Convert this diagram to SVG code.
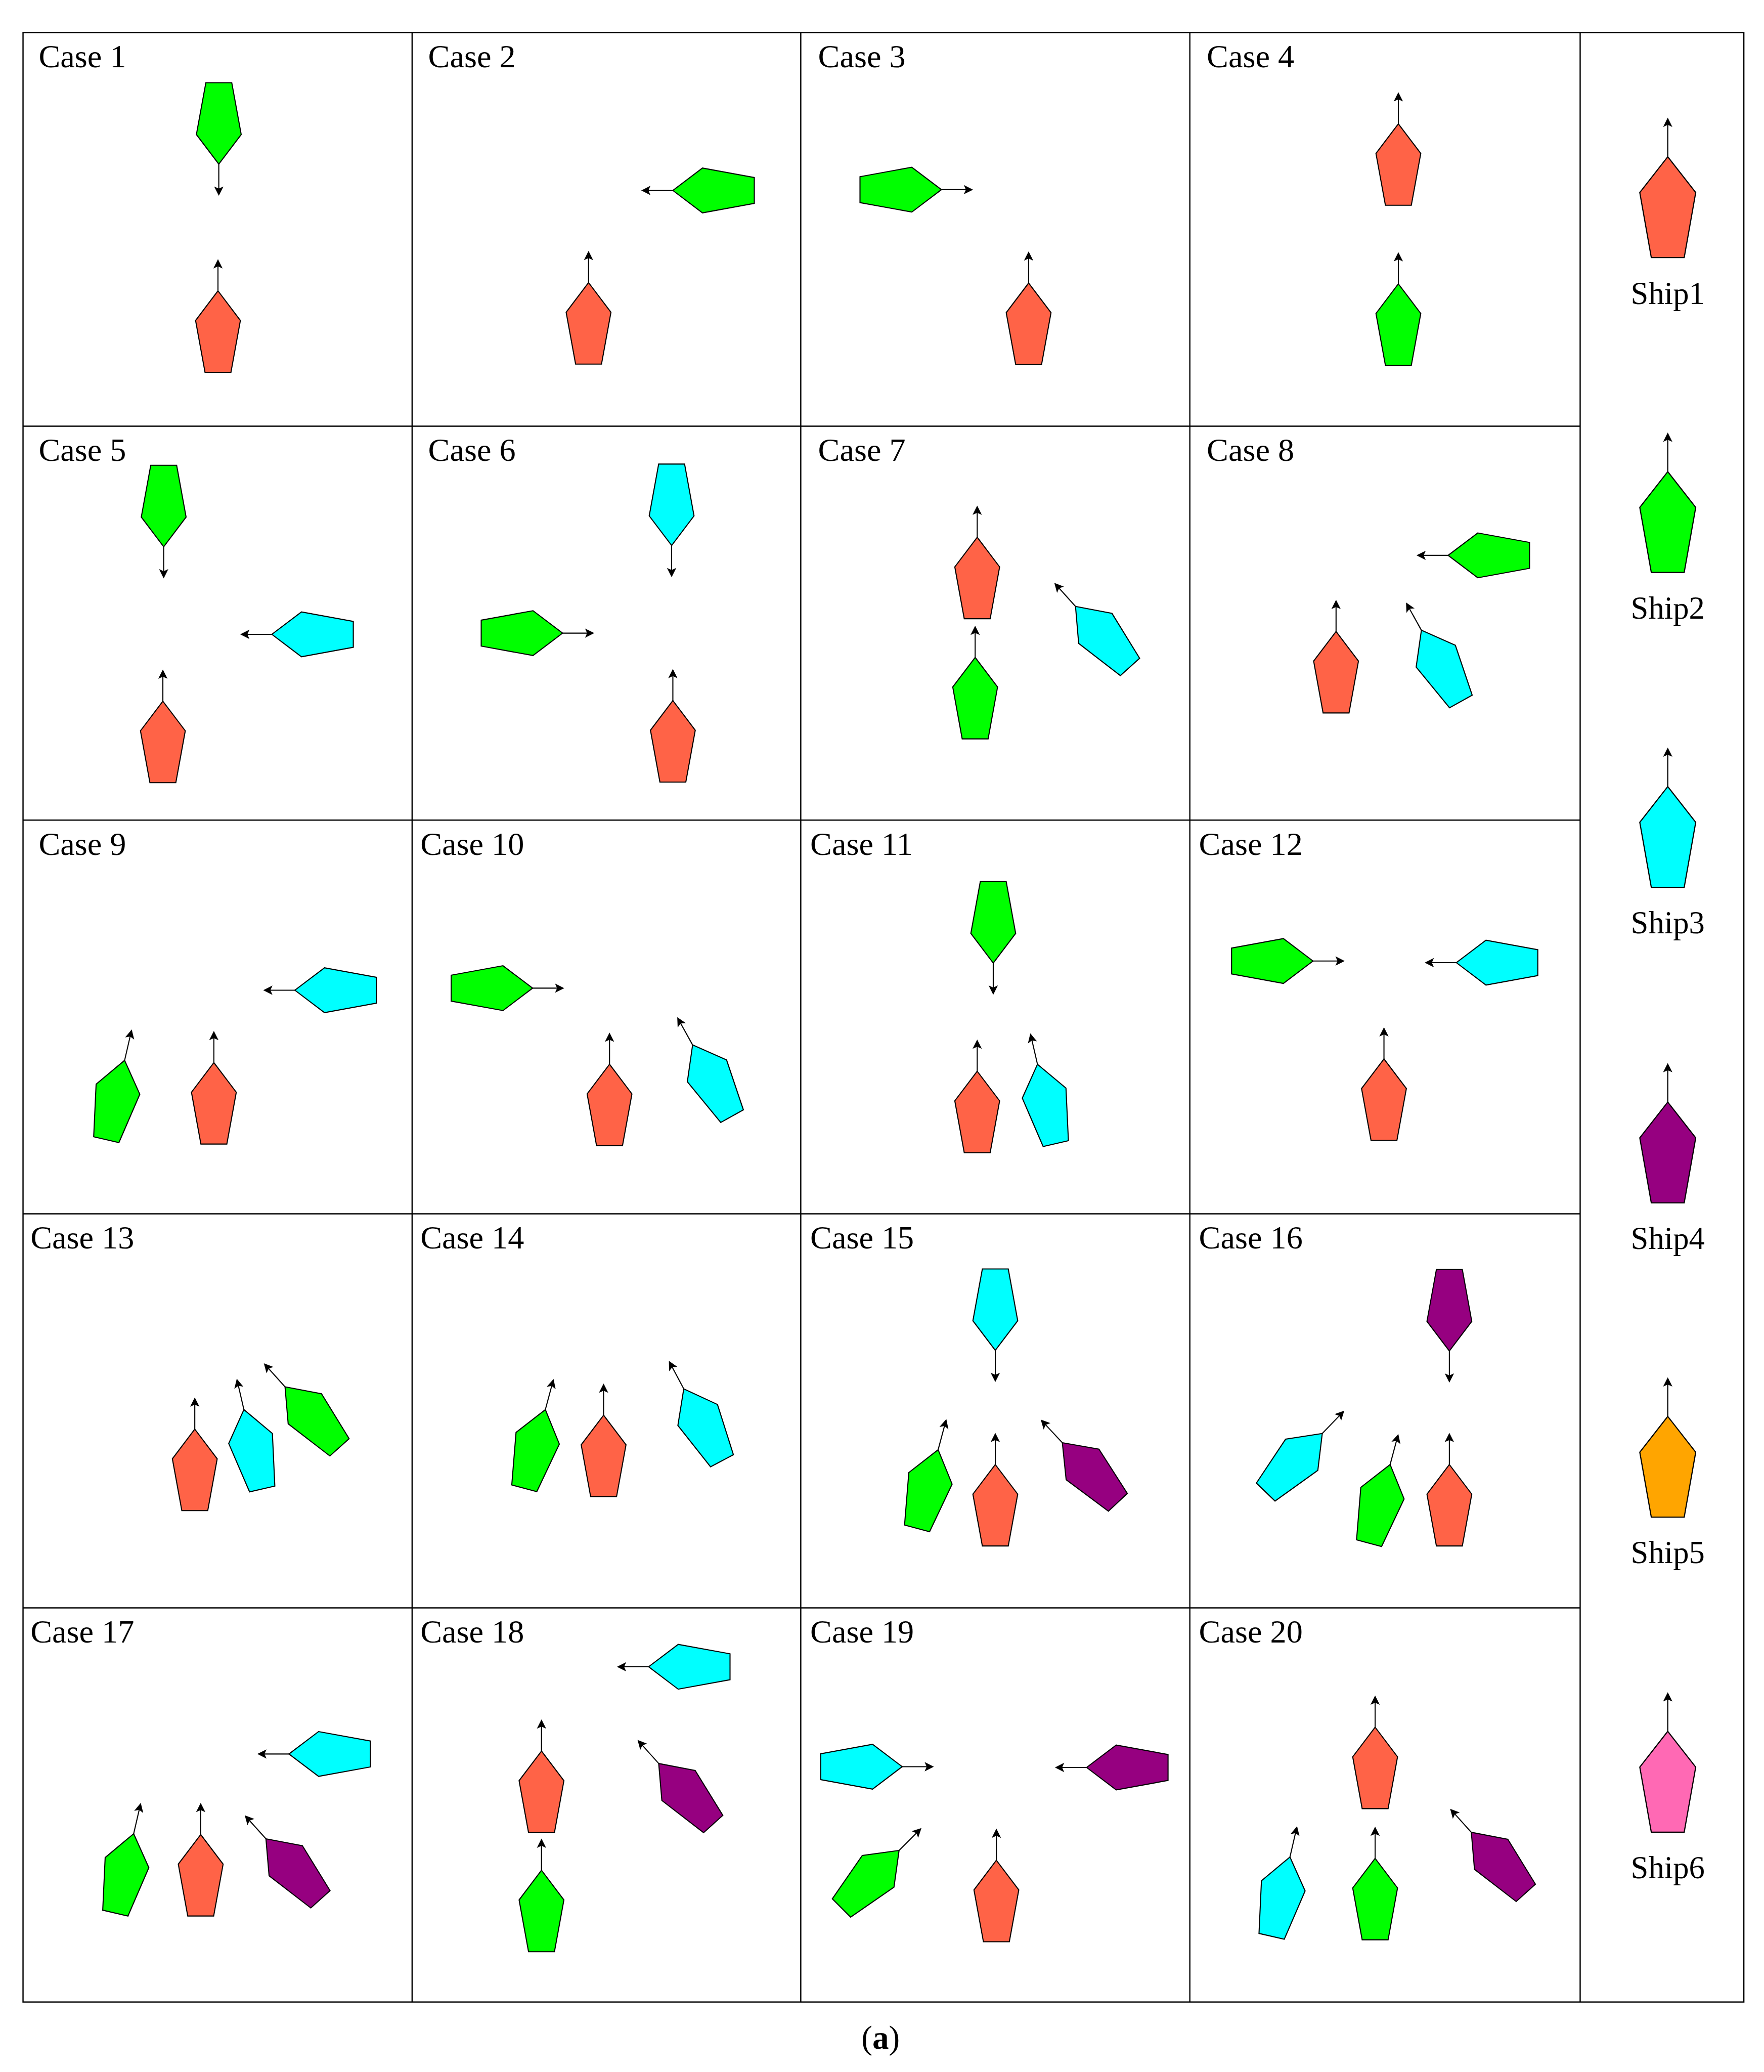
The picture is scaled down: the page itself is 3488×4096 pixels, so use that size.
<svg xmlns="http://www.w3.org/2000/svg" xmlns:xlink="http://www.w3.org/1999/xlink" width="3488" height="4096" viewBox="0 0 3488 4096">
<style>
.grid{fill:none;stroke:#000;stroke-width:3}
.lbl{font-family:"Liberation Serif","Times New Roman",serif;font-size:79px;fill:#000}
.slbl{font-family:"Liberation Serif","Times New Roman",serif;font-size:77px;fill:#000;text-anchor:middle}
.hull{stroke:#000;stroke-width:2.6;stroke-linejoin:miter}
.arw{stroke:#000;stroke-width:2.6;fill:none}
.head{fill:#000;stroke:none}
.s1{fill:#FF6347}.s2{fill:#00FF00}.s3{fill:#00FFFF}.s4{fill:#960080}.s5{fill:#FFA500}.s6{fill:#FF69B4}
</style>
<defs>
<g id="ship">
<polygon class="hull" points="0,0 -54.5,72 -31.5,198 31.5,198 54.5,72"/>
<line class="arw" x1="0" y1="0" x2="0" y2="-60"/>
<path class="head" d="M0,-77 L-11.3,-54.5 L0,-59.5 L11.3,-54.5 Z"/>
</g>
<g id="lship">
<polygon class="hull" points="0,0 -68,87 -40,245 40,245 68,87" style="stroke-width:2.8"/>
<line class="arw" x1="0" y1="0" x2="0" y2="-78" style="stroke-width:2.8"/>
<path class="head" d="M0,-95 L-11.3,-72.5 L0,-77.5 L11.3,-72.5 Z"/>
</g>
</defs>
<rect width="3488" height="4096" fill="#fff"/>
<g transform="scale(0.81324)">
<g id="grid">
<rect class="grid" x="56" y="79" width="4184" height="4787.5"/>
<line class="grid" x1="1002" y1="79" x2="1002" y2="4866.5"/>
<line class="grid" x1="1947" y1="79" x2="1947" y2="4866.5"/>
<line class="grid" x1="2893" y1="79" x2="2893" y2="4866.5"/>
<line class="grid" x1="3842" y1="79" x2="3842" y2="4866.5"/>
<line class="grid" x1="56" y1="1036" x2="3842" y2="1036"/>
<line class="grid" x1="56" y1="1993.5" x2="3842" y2="1993.5"/>
<line class="grid" x1="56" y1="2950.5" x2="3842" y2="2950.5"/>
<line class="grid" x1="56" y1="3908.5" x2="3842" y2="3908.5"/>
</g>
<g id="labels">
<text class="lbl" x="94" y="164">Case 1</text>
<text class="lbl" x="1041" y="164">Case 2</text>
<text class="lbl" x="1989" y="164">Case 3</text>
<text class="lbl" x="2934" y="164">Case 4</text>
<text class="lbl" x="94" y="1120.5">Case 5</text>
<text class="lbl" x="1041" y="1120.5">Case 6</text>
<text class="lbl" x="1989" y="1120.5">Case 7</text>
<text class="lbl" x="2934" y="1120.5">Case 8</text>
<text class="lbl" x="94" y="2078">Case 9</text>
<text class="lbl" x="1022" y="2078">Case 10</text>
<text class="lbl" x="1970" y="2078">Case 11</text>
<text class="lbl" x="2915" y="2078">Case 12</text>
<text class="lbl" x="74" y="3034.5">Case 13</text>
<text class="lbl" x="1022" y="3034.5">Case 14</text>
<text class="lbl" x="1970" y="3034.5">Case 15</text>
<text class="lbl" x="2915" y="3034.5">Case 16</text>
<text class="lbl" x="74" y="3992.5">Case 17</text>
<text class="lbl" x="1022" y="3992.5">Case 18</text>
<text class="lbl" x="1970" y="3992.5">Case 19</text>
<text class="lbl" x="2915" y="3992.5">Case 20</text>
</g>
<g id="case1"><use xlink:href="#ship" class="s2" transform="translate(532,399) rotate(180)"/><use xlink:href="#ship" class="s1" transform="translate(530,707)"/></g>
<g id="case2"><use xlink:href="#ship" class="s2" transform="translate(1636,463) rotate(-90)"/><use xlink:href="#ship" class="s1" transform="translate(1431,687)"/></g>
<g id="case3"><use xlink:href="#ship" class="s2" transform="translate(2289,461) rotate(90)"/><use xlink:href="#ship" class="s1" transform="translate(2501,688)"/></g>
<g id="case4"><use xlink:href="#ship" class="s1" transform="translate(3400,301)"/><use xlink:href="#ship" class="s2" transform="translate(3400,690)"/></g>
<g id="case5"><use xlink:href="#ship" class="s2" transform="translate(398,1329) rotate(180)"/><use xlink:href="#ship" class="s1" transform="translate(396,1704.5)"/><use xlink:href="#ship" class="s3" transform="translate(661,1542) rotate(-90)"/></g>
<g id="case6"><use xlink:href="#ship" class="s3" transform="translate(1633,1326) rotate(180)"/><use xlink:href="#ship" class="s2" transform="translate(1368,1539) rotate(90)"/><use xlink:href="#ship" class="s1" transform="translate(1636,1703)"/></g>
<g id="case7"><use xlink:href="#ship" class="s1" transform="translate(2376,1306)"/><use xlink:href="#ship" class="s2" transform="translate(2371,1598)"/><use xlink:href="#ship" class="s3" transform="translate(2615,1474) rotate(-42)"/></g>
<g id="case8"><use xlink:href="#ship" class="s2" transform="translate(3521,1350) rotate(-90)"/><use xlink:href="#ship" class="s1" transform="translate(3248.5,1535)"/><use xlink:href="#ship" class="s3" transform="translate(3456,1532) rotate(-29)"/></g>
<g id="case9"><use xlink:href="#ship" class="s3" transform="translate(717,2407) rotate(-90)"/><use xlink:href="#ship" class="s2" transform="translate(303,2577.5) rotate(13)"/><use xlink:href="#ship" class="s1" transform="translate(520,2583)"/></g>
<g id="case10"><use xlink:href="#ship" class="s2" transform="translate(1295,2402) rotate(90)"/><use xlink:href="#ship" class="s1" transform="translate(1482,2587)"/><use xlink:href="#ship" class="s3" transform="translate(1684,2540) rotate(-29)"/></g>
<g id="case11"><use xlink:href="#ship" class="s2" transform="translate(2415,2341) rotate(180)"/><use xlink:href="#ship" class="s1" transform="translate(2376,2604)"/><use xlink:href="#ship" class="s3" transform="translate(2522.5,2587) rotate(-13)"/></g>
<g id="case12"><use xlink:href="#ship" class="s2" transform="translate(3192.5,2336) rotate(90)"/><use xlink:href="#ship" class="s3" transform="translate(3541,2340) rotate(-90)"/><use xlink:href="#ship" class="s1" transform="translate(3365,2574)"/></g>
<g id="case13"><use xlink:href="#ship" class="s1" transform="translate(473.6,3474)"/><use xlink:href="#ship" class="s3" transform="translate(593,3426.5) rotate(-13)"/><use xlink:href="#ship" class="s2" transform="translate(693,3371) rotate(-42)"/></g>
<g id="case14"><use xlink:href="#ship" class="s2" transform="translate(1326,3426.5) rotate(15)"/><use xlink:href="#ship" class="s1" transform="translate(1467.6,3440)"/><use xlink:href="#ship" class="s3" transform="translate(1662.5,3376) rotate(-28)"/></g>
<g id="case15"><use xlink:href="#ship" class="s3" transform="translate(2420,3282.5) rotate(180)"/><use xlink:href="#ship" class="s2" transform="translate(2281,3524) rotate(15)"/><use xlink:href="#ship" class="s1" transform="translate(2420,3560)"/><use xlink:href="#ship" class="s4" transform="translate(2583,3507) rotate(-43)"/></g>
<g id="case16"><use xlink:href="#ship" class="s4" transform="translate(3524,3284) rotate(180)"/><use xlink:href="#ship" class="s3" transform="translate(3215,3484.5) rotate(44)"/><use xlink:href="#ship" class="s2" transform="translate(3380,3560) rotate(15)"/><use xlink:href="#ship" class="s1" transform="translate(3524,3560)"/></g>
<g id="case17"><use xlink:href="#ship" class="s3" transform="translate(702.6,4263.6) rotate(-90)"/><use xlink:href="#ship" class="s2" transform="translate(325,4457.5) rotate(13)"/><use xlink:href="#ship" class="s1" transform="translate(488,4459.4)"/><use xlink:href="#ship" class="s4" transform="translate(646.6,4469.7) rotate(-42)"/></g>
<g id="case18"><use xlink:href="#ship" class="s3" transform="translate(1577,4051.6) rotate(-90)"/><use xlink:href="#ship" class="s1" transform="translate(1316.6,4256.5)"/><use xlink:href="#ship" class="s2" transform="translate(1316.6,4546.3)"/><use xlink:href="#ship" class="s4" transform="translate(1601.6,4286.7) rotate(-42)"/></g>
<g id="case19"><use xlink:href="#ship" class="s3" transform="translate(2193.6,4294.5) rotate(90)"/><use xlink:href="#ship" class="s4" transform="translate(2642,4296.4) rotate(-90)"/><use xlink:href="#ship" class="s2" transform="translate(2186,4498) rotate(45)"/><use xlink:href="#ship" class="s1" transform="translate(2422.6,4522)"/></g>
<g id="case20"><use xlink:href="#ship" class="s1" transform="translate(3343.5,4198.5)"/><use xlink:href="#ship" class="s3" transform="translate(3136.4,4514) rotate(13)"/><use xlink:href="#ship" class="s2" transform="translate(3343.5,4517.3)"/><use xlink:href="#ship" class="s4" transform="translate(3577.4,4454) rotate(-42)"/></g>
<g id="legend">
<g id="legend-ship1"><use xlink:href="#lship" class="s1" transform="translate(4055,381)"/><text class="slbl" x="4055" y="739">Ship1</text></g>
<g id="legend-ship2"><use xlink:href="#lship" class="s2" transform="translate(4055,1146.5)"/><text class="slbl" x="4055" y="1504">Ship2</text></g>
<g id="legend-ship3"><use xlink:href="#lship" class="s3" transform="translate(4055,1912)"/><text class="slbl" x="4055" y="2269">Ship3</text></g>
<g id="legend-ship4"><use xlink:href="#lship" class="s4" transform="translate(4055,2679)"/><text class="slbl" x="4055" y="3036">Ship4</text></g>
<g id="legend-ship5"><use xlink:href="#lship" class="s5" transform="translate(4055,3443)"/><text class="slbl" x="4055" y="3800">Ship5</text></g>
<g id="legend-ship6"><use xlink:href="#lship" class="s6" transform="translate(4055,4208.5)"/><text class="slbl" x="4055" y="4566">Ship6</text></g>
</g>
<text id="caption" x="2141" y="4980" text-anchor="middle" style="font-family:'Liberation Serif','Times New Roman',serif;font-size:80px">(<tspan font-weight="bold">a</tspan>)</text>
</g>
</svg>
